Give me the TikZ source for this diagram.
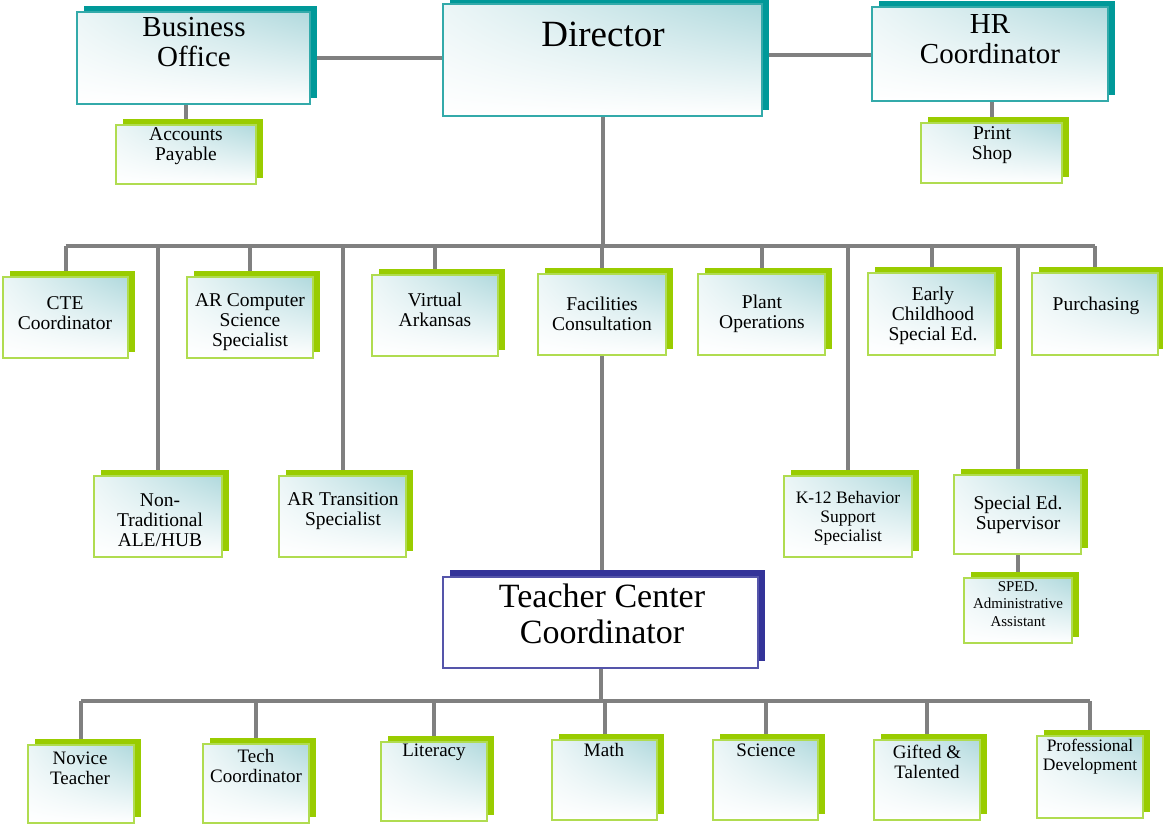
\documentclass[tikz,border=0pt]{standalone}
\usepackage{fontspec}
\setmainfont{Liberation Serif}
\usetikzlibrary{shadows,backgrounds,shadings}
\definecolor{tealS}{HTML}{009999}
\definecolor{tealB}{HTML}{33AAAA}
\definecolor{greenS}{HTML}{99CC00}
\definecolor{greenB}{HTML}{B0DC50}
\definecolor{blueS}{HTML}{333399}
\definecolor{blueB}{HTML}{5555AA}
\definecolor{fillT}{HTML}{B0D9DD}
\definecolor{lineg}{HTML}{808080}
\tikzset{
  basebox/.style={inner sep=0pt, line width=1.3pt, shade,
    upper right=fillT, upper left=white!75!fillT, lower left=white, lower right=white},
  tbox/.style={basebox, draw=tealB, general shadow={fill=tealS, shadow xshift=7pt, shadow yshift=6pt}},
  gbox/.style={basebox, draw=greenB, general shadow={fill=greenS, shadow xshift=7pt, shadow yshift=6pt}},
  bbox/.style={inner sep=0pt, line width=1.3pt, draw=blueB, fill=white, general shadow={fill=blueS, shadow xshift=7pt, shadow yshift=7pt}},
  lab/.style={inner sep=0pt, align=center, font=\fontsize{19.5}{20}\selectfont},
  labr/.style={inner sep=0pt, align=center, font=\fontsize{19}{20}\selectfont},
  labs/.style={inner sep=0pt, align=center, font=\fontsize{17.5}{19}\selectfont},
  big/.style={inner sep=0pt, align=center, font=\fontsize{29}{30}\selectfont},
  link/.style={draw=lineg, line width=4pt},
}
\newcommand\obox[6]{\node[#1, minimum width={#5-#3}, minimum height={#6-#4}] (#2) at ({(#3+#5)/2},{(#4+#6)/2}) {};}
\begin{document}
\begin{tikzpicture}[x=1pt,y=-1pt]
\useasboundingbox (0,0) rectangle (1163,823);
\coordinate (bus1) at (0,246);
\coordinate (bus2) at (0,701);
% boxes top
\obox{tbox}{business}{77}{12}{310}{104}
\obox{tbox}{director}{443}{4}{762}{116}
\obox{tbox}{hr}{872}{7}{1108}{101}
\obox{gbox}{accounts}{116}{125}{256}{184}
\obox{gbox}{print}{921}{123}{1062}{183}
% row 1
\obox{gbox}{cte}{3}{277}{128}{358}
\obox{gbox}{arcs}{187}{277}{313}{358}
\obox{gbox}{virtual}{372}{275}{498}{356}
\obox{gbox}{facil}{538}{274}{666}{355}
\obox{gbox}{plant}{698}{274}{825}{355}
\obox{gbox}{early}{868}{273}{995}{355}
\obox{gbox}{purch}{1032}{273}{1158}{355}
% row 2
\obox{gbox}{nontrad}{94}{476}{222}{557}
\obox{gbox}{artrans}{279}{476}{406}{557}
\obox{gbox}{kbehav}{784}{476}{912}{557}
\obox{gbox}{speced}{954}{475}{1081}{554}
\obox{gbox}{sped}{964}{578}{1072}{643}
% teacher center
\obox{bbox}{teacher}{443}{577}{758}{668}
% row 3
\obox{gbox}{novice}{28}{745}{134}{823}
\obox{gbox}{tech}{203}{744}{309}{823}
\obox{gbox}{literacy}{381}{742}{487}{821}
\obox{gbox}{math}{552}{740}{657}{820}
\obox{gbox}{science}{713}{740}{818}{820}
\obox{gbox}{gifted}{874}{740}{980}{820}
\obox{gbox}{profdev}{1037}{736}{1143}{818}
% links
\begin{scope}[on background layer]
\fill[white] (0,0) rectangle (1163,823);
\draw[link] (business.east |- 0,58) -- (director.west |- 0,58);
\draw[link] (director.east |- 0,55) -- (hr.west |- 0,55);
\draw[link] (accounts.north) -- (accounts.north |- business.south);
\draw[link] (print.north) -- (print.north |- hr.south);
\draw[link] (director.south) -- (director.south |- bus1);
\draw[link] (cte.north |- bus1) -- (purch.north |- bus1);
\foreach \n in {cte,arcs,virtual,facil,plant,early,purch,nontrad,artrans,kbehav,speced}{
  \draw[link] (\n.north) -- (\n.north |- bus1);
}
\draw[link] (facil.south) -- (teacher.north -| facil.south);
\draw[link] (speced.south) -- (sped.north -| speced.south);
\draw[link] (teacher.south) -- (teacher.south |- bus2);
\draw[link] (novice.north |- bus2) -- (profdev.north |- bus2);
\foreach \n in {novice,tech,literacy,math,science,gifted,profdev}{
  \draw[link] (\n.north) -- (\n.north |- bus2);
}
\end{scope}
% texts
\node[big] (business-t) at (194,42) {Business\\Office};
\node[inner sep=0pt, font=\fontsize{37}{38}\selectfont] (director-t) at (603,34) {Director};
\node[big] (hr-t) at (990,39) {HR\\Coordinator};
\node[lab] (accounts-t) at (186,146) {Accounts\\Payable};
\node[lab] (print-t) at (992,145) {Print\\Shop};
\node[lab] (cte-t) at (65,313) {CTE\\Coordinator};
\node[lab] (arcs-t) at (250,322) {AR Computer\\Science\\Specialist};
\node[lab] (virtual-t) at (435,310) {Virtual\\Arkansas};
\node[lab] (facil-t) at (602,314) {Facilities\\Consultation};
\node[lab] (plant-t) at (762,314) {Plant\\Operations};
\node[lab] (early-t) at (933,316) {Early\\Childhood\\Special Ed.};
\node[lab] (purch-t) at (1096,306) {Purchasing};
\node[lab] (nontrad-t) at (160,520) {Non-\\Traditional\\ALE/HUB};
\node[lab] (artrans-t) at (343,511) {AR Transition\\Specialist};
\node[labs] (kbehav-t) at (848,518) {K-12 Behavior\\Support\\Specialist};
\node[lab] (speced-t) at (1018,515) {Special Ed.\\Supervisor};
\node[inner sep=0pt, align=center, font=\fontsize{15}{17.5}\selectfont] (sped-t) at (1018,604) {SPED.\\Administrative\\Assistant};
\node[inner sep=0pt, align=center, font=\fontsize{34}{36}\selectfont] (teacher-t) at (602,614) {Teacher Center\\Coordinator};
\node[labr] (novice-t) at (80,768) {Novice\\Teacher};
\node[labr] (tech-t) at (256,766) {Tech\\Coordinator};
\node[labr] (literacy-t) at (434,752) {Literacy};
\node[labr] (math-t) at (604,750) {Math};
\node[labr] (science-t) at (766,750) {Science};
\node[labr] (gifted-t) at (927,762) {Gifted \&\\Talented};
\node[labs] (profdev-t) at (1090,757) {Professional\\Development};
\end{tikzpicture}
\end{document}
